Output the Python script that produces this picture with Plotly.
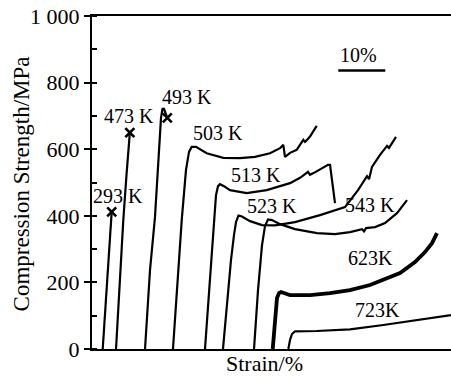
import plotly.graph_objects as go

# ---- data (strain in %, stress in MPa) ----
s_293 = [2.28, 3.19, 4.15, 4.19]
y_293 = [0, 205, 405, 412]

s_473 = [5.11, 5.85, 6.66, 7.34, 7.98, 8.05]
y_473 = [0, 192, 387, 523, 645, 650]

s_493 = [11.28, 12.34, 13.40, 14.15, 14.68, 15.0, 15.32, 16.02]
y_493 = [0, 237, 396, 568, 694, 721, 721, 694]

s_503 = [17.23, 18.09, 19.09, 20.0, 20.64, 21.21, 22.13, 24.40, 27.94, 31.49, 34.68,
         37.87, 40.0, 40.70, 41.06, 42.13, 43.55, 44.96, 45.32, 45.74, 46.38, 47.81]
y_503 = [0, 177, 387, 538, 592, 607, 607, 588, 574, 573, 577,
         588, 603, 613, 577, 589, 598, 628, 622, 628, 638, 670]

s_513 = [24.04, 24.89, 25.74, 26.38, 26.81, 27.23, 28.09, 29.36, 32.91, 37.17, 42.13,
         44.26, 45.96, 46.38, 47.23, 50.21, 50.64, 51.28, 51.70]
y_513 = [0, 177, 357, 462, 489, 495, 489, 477, 468, 477, 498,
         514, 532, 523, 529, 553, 553, 477, 438]

s_523 = [27.87, 28.72, 29.57, 30.21, 30.64, 31.17, 31.91, 33.62, 36.17, 38.94, 43.19,
         48.51, 53.83, 56.60, 58.09, 58.51, 58.94, 59.57, 61.28, 62.77, 63.19, 63.62, 64.68]
y_523 = [0, 147, 267, 342, 381, 401, 398, 384, 372, 371, 381,
         402, 426, 477, 513, 519, 510, 547, 583, 610, 604, 613, 637]

s_543 = [34.47, 35.32, 36.17, 36.81, 37.45, 38.30, 40.0, 43.19, 47.87, 51.70, 54.89,
         57.45, 57.87, 58.30, 60.21, 62.34, 64.89, 67.02]
y_543 = [0, 177, 312, 369, 389, 387, 375, 360, 348, 345, 351,
         360, 353, 363, 366, 378, 408, 447]

s_623 = [38.45, 38.94, 39.36, 39.79, 40.21, 42.13, 46.38, 50.64, 54.89, 59.15, 62.34,
         65.53, 68.72, 70.85, 72.34, 73.40]
y_623 = [0, 87, 153, 168, 171, 162, 162, 168, 177, 192, 210,
         228, 261, 291, 318, 348]

s_723 = [41.77, 42.13, 42.55, 43.19, 47.81, 54.89, 61.98, 69.09, 76.38]
y_723 = [0, 27, 45, 53, 54, 59, 72, 87, 102]

# fracture marks
frac_s = [4.19, 8.05, 16.02]
frac_y = [412, 650, 694]

# curve labels
lab_text = ["293 K", "473 K", "493 K", "503 K", "513 K", "523 K", "543 K", "623K", "723K", "10%"]
lab_s = [5.5, 7.9, 20.2, 26.8, 34.9, 38.4, 59.1, 59.3, 60.7, 56.8]
lab_y = [459, 700, 757, 650, 523, 428, 432, 272, 116, 884]

# 10 % scale bar
bar_s = [52.4, 62.4]
bar_y = 836

y_ticks = [0, 200, 400, 600, 800, 1000]
y_ticktext = ["0", "200", "400", "600", "800", "1 000"]

FONT = "Liberation Serif, Times New Roman, serif"

fig = go.Figure()
curves = [(s_293, y_293, 2.2), (s_473, y_473, 2.2), (s_493, y_493, 2.2), (s_503, y_503, 2.2),
          (s_513, y_513, 2.2), (s_523, y_523, 2.2), (s_543, y_543, 2.2), (s_623, y_623, 3.8),
          (s_723, y_723, 2.2)]
for sx, sy, w in curves:
    fig.add_trace(go.Scatter(x=sx, y=sy, mode="lines", line=dict(color="black", width=w),
                             showlegend=False, hoverinfo="skip", cliponaxis=False))

fig.add_trace(go.Scatter(x=frac_s, y=frac_y, mode="markers", showlegend=False, hoverinfo="skip",
                         marker=dict(symbol="x-thin-open", size=9, color="black",
                                     line=dict(color="black", width=2.6))))

fig.add_trace(go.Scatter(x=bar_s, y=[bar_y, bar_y], mode="lines", hoverinfo="skip",
                         line=dict(color="black", width=2.5), showlegend=False))

for t, sx, sy in zip(lab_text, lab_s, lab_y):
    fig.add_annotation(x=sx, y=sy, text=t, showarrow=False, xanchor="center", yanchor="middle",
                       font=dict(family=FONT, size=20, color="black"))

fig.add_annotation(x=36.8, xref="x", y=-0.045, yref="paper", text="Strain/%", showarrow=False,
                   xanchor="center", yanchor="middle", font=dict(family=FONT, size=22, color="black"))
fig.add_annotation(x=-0.197, xref="paper", y=0.495, yref="paper", text="Compression Strength/MPa",
                   textangle=-90, showarrow=False, xanchor="center", yanchor="middle",
                   font=dict(family=FONT, size=23, color="black"))

fig.update_layout(
    width=451, height=377,
    margin=dict(l=92, r=0, t=16, b=28, autoexpand=False),
    paper_bgcolor="white", plot_bgcolor="white",
    font=dict(family=FONT, size=20, color="black"),
    xaxis=dict(range=[0, 76.38], showgrid=False, zeroline=False, showticklabels=False,
               automargin=False,
               ticks="", showline=True, linecolor="black", linewidth=2, mirror=True),
    yaxis=dict(range=[0, 1000], showgrid=False, zeroline=False, tickvals=y_ticks,
               automargin=False,
               ticktext=y_ticktext, ticks="outside", ticklen=6, tickwidth=1.5, tickcolor="black",
               showline=True, linecolor="black", linewidth=2,
               tickfont=dict(family=FONT, size=22, color="black"),
               minor=dict(dtick=100, ticks="inside", ticklen=5, tickwidth=1.5, tickcolor="black")),
)

fig.write_html("out.html", config={"displayModeBar": False},
               post_script="document.body.style.margin='0';document.body.style.padding='0';")
